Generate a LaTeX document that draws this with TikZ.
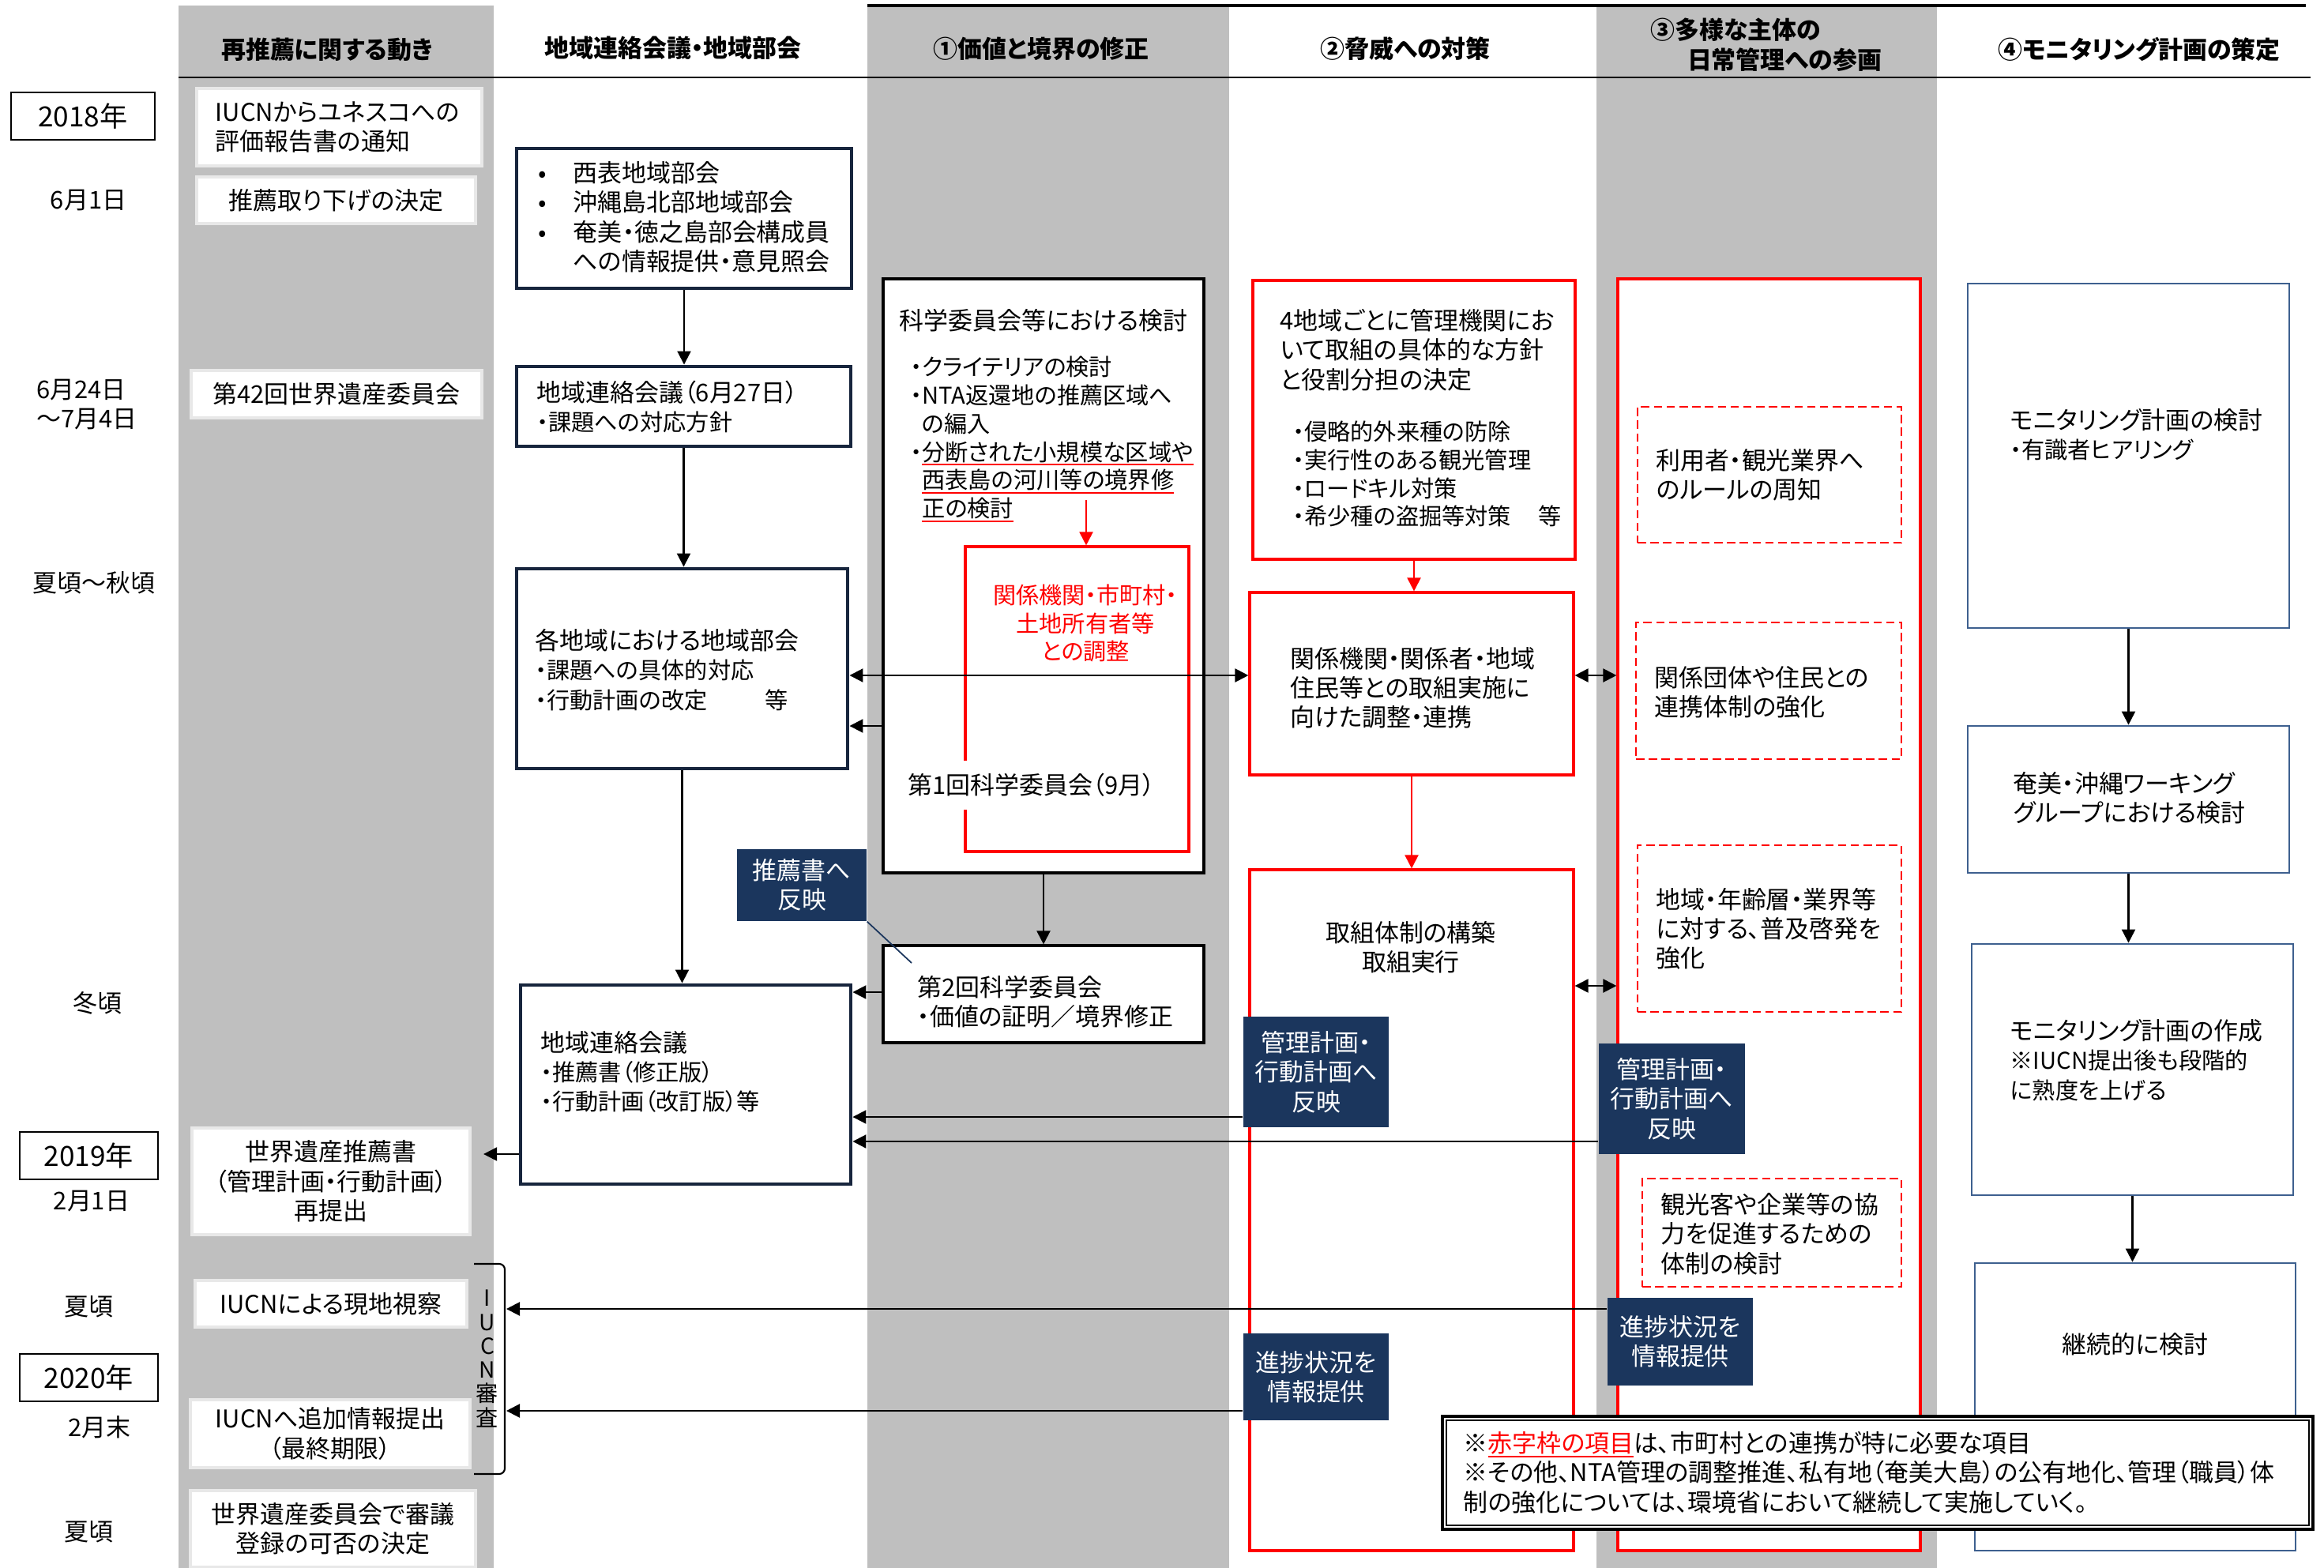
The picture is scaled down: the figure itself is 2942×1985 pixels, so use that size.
\documentclass[tikz,border=0pt]{standalone}
\usepackage{fontspec}
\setmainfont{Noto Sans CJK JP}[RawFeature=+palt]
\usetikzlibrary{arrows.meta,fit}

\definecolor{colgray}{RGB}{191,191,191}
\definecolor{navyfill}{RGB}{27,54,93}
\definecolor{navyline}{RGB}{23,37,61}
\definecolor{monblue}{RGB}{62,96,143}

\newcommand\subfont{\fontsize{8.3}{10.2}\selectfont}
\newsavebox\ulbox
\newcommand\redul[1]{\sbox\ulbox{#1}\rlap{\color{red}\rule[-1.8pt]{\wd\ulbox}{0.6pt}}\usebox\ulbox}

\begin{document}
\begin{tikzpicture}[x=0.01cm, y=-0.01cm,
    every node/.style={inner sep=0pt, font=\fontsize{8.8}{10.6}\selectfont},
    head/.style={font=\bfseries\fontsize{8.8}{10.8}\selectfont, align=left},
    yearbox/.style={draw=black, line width=0.7pt},
    yeartext/.style={font=\fontsize{10}{12}\selectfont},
    wbox/.style={draw=black!9, line width=1.2pt, fill=white},
    nbox/.style={draw=navyline, line width=1.4pt, fill=white},
    kbox/.style={draw=black, line width=0.9pt, fill=white},
    rbox/.style={draw=red, line width=0.9pt, fill=white},
    rdash/.style={rbox, line width=0.8pt, dash pattern=on 3pt off 1.6pt},
    dbox/.style={fill=navyfill},
    dtext/.style={text=white, align=center},
    bbox/.style={draw=monblue, line width=0.8pt, fill=white},
    ltext/.style={anchor=west, align=left},
    arr/.style={-{Triangle[length=1.7mm,width=1.7mm]}, line width=0.6pt},
    darr/.style={{Triangle[length=1.7mm,width=1.7mm]}-{Triangle[length=1.7mm,width=1.7mm]}, line width=0.6pt},
    rarr/.style={arr, red}
  ]
  \useasboundingbox (0,0) rectangle (2942,1985);
  \fill[colgray] (226,7) rectangle (625,1985);
  \fill[colgray] (1098,9) rectangle (1556,1985);
  \fill[colgray] (2021,9) rectangle (2452,1985);
  \draw[line width=1pt] (1098,7) -- (2919,7);
  \draw[line width=0.6pt] (226,98) -- (2925,98);

  \node[head] (hmove) at (414,63) {再推薦に関する動き};
  \node[head] (hliaison) at (852,61) {地域連絡会議・地域部会};
  \node[head] (hvalue) at (1318,62) {①価値と境界の修正};
  \node[head] (hthreat) at (1779,62) {②脅威への対策};
  \node[head] (hpartic) at (2236,57) {③多様な主体の\\\hspace*{1.5em}日常管理への参画};
  \node[head] (hmonitor) at (2708,62) {④モニタリング計画の策定};

  % time line
  \node[yearbox, fit={(14,117)(196,177)}] (y2018) {};
  \node[yeartext] (y2018t) at (y2018) {2018年};
  \node (d0601) at (112,254) {6月1日};
  \node[align=left] (d0624) at (110,512) {6月24日\\～7月4日};
  \node (dsumaut) at (119,738) {夏頃～秋頃};
  \node (dwinter) at (123,1270) {冬頃};
  \node[yearbox, fit={(25,1433)(200,1493)}] (y2019) {};
  \node[yeartext] (y2019t) at (y2019) {2019年};
  \node (d0201) at (116,1521) {2月1日};
  \node (dsum1) at (112,1654) {夏頃};
  \node[yearbox, fit={(25,1714)(200,1774)}] (y2020) {};
  \node[yeartext] (y2020t) at (y2020) {2020年};
  \node (dfeb) at (126,1807) {2月末};
  \node (dsum2) at (112,1939) {夏頃};

  \node[wbox, fit={(249,112)(610,210)}] (iucnrep) {};
  \node[ltext] (iucnrept) at (272,161) {IUCNからユネスコへの\\評価報告書の通知};
  \node[wbox, fit={(249,224)(602,283)}] (withdraw) {};
  \node (withdrawt) at (withdraw) {推薦取り下げの決定};
  \node[wbox, fit={(242,469)(610,529)}] (whc42) {};
  \node (whc42t) at (whc42) {第42回世界遺産委員会};
  \node[wbox, fit={(243,1428)(595,1563)}] (resubmit) {};
  \node[align=center] (resubmitt) at (resubmit) {世界遺産推薦書\\（管理計画・行動計画）\\再提出};
  \node[wbox, fit={(247,1621)(591,1680)}] (visit) {};
  \node (visitt) at (visit) {IUCNによる現地視察};
  \node[wbox, fit={(241,1772)(595,1858)}] (addinfo) {};
  \node[align=center] (addinfot) at (addinfo) {IUCNへ追加情報提出\\（最終期限）};
  \node[wbox, fit={(241,1887)(602,1984)}] (whcdecide) {};
  \node[align=center] (whcdecidet) at (whcdecide) {世界遺産委員会で審議\\登録の可否の決定};
  \draw[line width=0.6pt, rounded corners=2pt] (600,1600) -- (639,1600) -- (639,1866) -- (600,1866);
  \node[align=center, font=\fontsize{8}{8.6}\selectfont] (iucnrev) at (617,1720) {I\\U\\C\\N\\審\\査};

  % liaison column
  \node[nbox, fit={(654,188)(1078,365)}] (subgrp) {};
  \node (subgrpt) at (866,279) {\begin{tabular}{@{}l@{\hspace{1.1em}}l@{}}•&西表地域部会\\•&沖縄島北部地域部会\\•&奄美・徳之島部会構成員\\&への情報提供・意見照会\end{tabular}};
  \node[nbox, fit={(654,464)(1077,565)}] (liaison1) {};
  \node[ltext] (liaison1t) at (679,515) {地域連絡会議（6月27日）\\{\subfont ・課題への対応方針}};
  \node[nbox, fit={(654,720)(1073,973)}] (local) {};
  \node[ltext] (localt) at (677,848) {各地域における地域部会\\{\subfont ・課題への具体的対応}\\{\subfont ・行動計画の改定\hspace{2.5em}等}};
  \node[nbox, fit={(659,1247)(1077,1499)}] (liaison2) {};
  \node[ltext] (liaison2t) at (684,1357) {地域連絡会議\\{\subfont ・推薦書（修正版）}\\{\subfont ・行動計画（改訂版）等}};

  % value and boundary column
  \node[kbox, fit={(1118,353)(1524,1105)}] (sci) {};
  \node[anchor=west] (scit) at (1138,406) {科学委員会等における検討};
  \node[ltext, font=\subfont] (scilist) at (1152,556) {・クライテリアの検討\\・NTA返還地の推薦区域へ\\\hspace*{0.5em}の編入\\・\redul{分断された小規模な区域や}\\\hspace*{0.5em}\redul{西表島の河川等の境界修}\\\hspace*{0.5em}\redul{正の検討}};
  \coordinate (scired) at (1375,633);
  \node[rbox, fit={(1222,692)(1505,1078)}] (coord) {};
  \node[align=center, text=red, font=\subfont] (coordt) at (1374,789) {関係機関・市町村・\\土地所有者等\\との調整};
  \node[anchor=west, fill=white, inner xsep=1pt, inner ysep=4.5pt] (sci1) at (1145,994) {第1回科学委員会（9月）};
  \node[kbox, fit={(1118,1197)(1524,1320)}] (sci2) {};
  \node[ltext] (sci2t) at (1161,1268) {第2回科学委員会\\・価値の証明／境界修正};
  \node[dbox, fit={(933,1075)(1097,1166)}] (reflect0) {};
  \node[dtext] (reflect0t) at (reflect0) {推薦書へ\\反映};
  \coordinate (ldr) at (1154,1219);

  % threat column
  \node[rbox, fit={(1586,355)(1994,708)}] (plan4) {};
  \node[ltext] (plan4t) at (1620,443) {4地域ごとに管理機関にお\\いて取組の具体的な方針\\と役割分担の決定};
  \node[ltext, font=\subfont] (plan4l) at (1636,600) {・侵略的外来種の防除\\・実行性のある観光管理\\・ロードキル対策\\・希少種の盗掘等対策\hspace{1.2em}等};
  \node[rbox, fit={(1582,750)(1992,981)}] (coop) {};
  \node[ltext] (coopt) at (1633,871) {関係機関・関係者・地域\\住民等との取組実施に\\向けた調整・連携};
  \node[rbox, fit={(1582,1101)(1992,1963)}] (action) {};
  \node[align=center] (actiont) at (1786,1199) {取組体制の構築\\取組実行};
  \node[dbox, fit={(1574,1287)(1758,1427)}] (reflect4) {};
  \node[dtext] (reflect4t) at (reflect4) {管理計画・\\行動計画へ\\反映};
  \node[dbox, fit={(1574,1688)(1758,1798)}] (report4) {};
  \node[dtext] (report4t) at (report4) {進捗状況を\\情報提供};

  % participation column
  \node[rbox, fit={(2048,353)(2431,1963)}] (partic) {};
  \node[rdash, fit={(2073,515)(2407,687)}] (rule) {};
  \node[ltext] (rulet) at (2096,601) {利用者・観光業界へ\\のルールの周知};
  \node[rdash, fit={(2071,788)(2407,961)}] (link) {};
  \node[ltext] (linkt) at (2094,876) {関係団体や住民との\\連携体制の強化};
  \node[rdash, fit={(2073,1070)(2407,1281)}] (edu) {};
  \node[ltext] (edut) at (2096,1176) {地域・年齢層・業界等\\に対する、普及啓発を\\強化};
  \node[dbox, fit={(2024,1321)(2209,1461)}] (reflect5) {};
  \node[dtext] (reflect5t) at (reflect5) {管理計画・\\行動計画へ\\反映};
  \node[rdash, fit={(2079,1492)(2407,1629)}] (visitor) {};
  \node[ltext] (visitort) at (2102,1562) {観光客や企業等の協\\力を促進するための\\体制の検討};
  \node[dbox, fit={(2035,1643)(2219,1754)}] (report5) {};
  \node[dtext] (report5t) at (report5) {進捗状況を\\情報提供};

  % monitoring column
  \node[bbox, fit={(2491,359)(2898,795)}] (mon1) {};
  \node[ltext] (mon1t) at (2544,550) {モニタリング計画の検討\\{\subfont ・有識者ヒアリング}};
  \node[bbox, fit={(2491,919)(2898,1105)}] (mon2) {};
  \node[ltext] (mon2t) at (2548,1010) {奄美・沖縄ワーキング\\グループにおける検討};
  \node[bbox, fit={(2496,1195)(2903,1513)}] (mon3) {};
  \node[ltext] (mon3t) at (2544,1342) {モニタリング計画の作成\\{\subfont ※IUCN提出後も段階的}\\{\subfont に熟度を上げる}};
  \node[bbox, fit={(2500,1599)(2906,1963)}] (mon4) {};
  \node (mon4t) at (2703,1702) {継続的に検討};

  % connectors
  \coordinate (ylink) at (0,855);
  \coordinate (yback) at (0,919);
  \coordinate (yjoint) at (0,1248);
  \coordinate (ysci2) at (0,1256);
  \coordinate (yrefl4) at (0,1414);
  \coordinate (yrefl5) at (0,1445);
  \coordinate (yresub) at (0,1461);
  \coordinate (brtop) at (641,1657);
  \coordinate (brbot) at (641,1786);

  \draw[arr] (subgrp.south) -- (subgrp.south |- liaison1.north);
  \draw[arr] (liaison1.south) -- (liaison1.south |- local.north);
  \draw[arr] (local.south) -- (local.south |- liaison2.north);
  \draw[darr] (local.east |- ylink) -- (coop.west |- ylink);
  \draw[arr] (sci.west |- yback) -- (local.east |- yback);
  \draw[arr] (sci.south) -- (sci.south |- sci2.north);
  \draw[arr] (sci2.west |- ysci2) -- (liaison2.east |- ysci2);
  \draw[arr] (reflect4.west |- yrefl4) -- (liaison2.east |- yrefl4);
  \draw[arr] (reflect5.west |- yrefl5) -- (liaison2.east |- yrefl5);
  \draw[arr, shorten >=1.5mm] (liaison2.west |- yresub) -- (resubmit.east |- yresub);
  \draw[arr] (report5.west |- brtop) -- (brtop);
  \draw[arr] (report4.west |- brbot) -- (brbot);
  \draw[navyfill, line width=0.5pt] (reflect0.south east) -- (ldr);
  \draw[rarr] (scired) -- (scired |- coord.north);
  \draw[rarr] (plan4.south) -- (plan4.south |- coop.north);
  \draw[rarr] (coop.south) -- (coop.south |- action.north);
  \draw[darr] (coop.east |- ylink) -- (partic.west |- ylink);
  \draw[darr] (action.east |- yjoint) -- (partic.west |- yjoint);
  \draw[arr] (mon1.south) -- (mon1.south |- mon2.north);
  \draw[arr] (mon2.south) -- (mon2.south |- mon3.north);
  \draw[arr] (mon3.south) -- (mon3.south |- mon4.north);

  % note
  \node[draw=black, line width=1.1pt, fill=white, fit={(1826,1793)(2928,1936)}] (note) {};
  \draw[line width=0.5pt] ([shift={(7,7)}]note.north west) rectangle ([shift={(-7,-7)}]note.south east);
  \node[ltext] (notet) at (1852,1864) {※\redul{\color{red}赤字枠の項目}は、市町村との連携が特に必要な項目\\※その他、NTA管理の調整推進、私有地（奄美大島）の公有地化、管理（職員）体\\制の強化については、環境省において継続して実施していく。};
\end{tikzpicture}
\end{document}
